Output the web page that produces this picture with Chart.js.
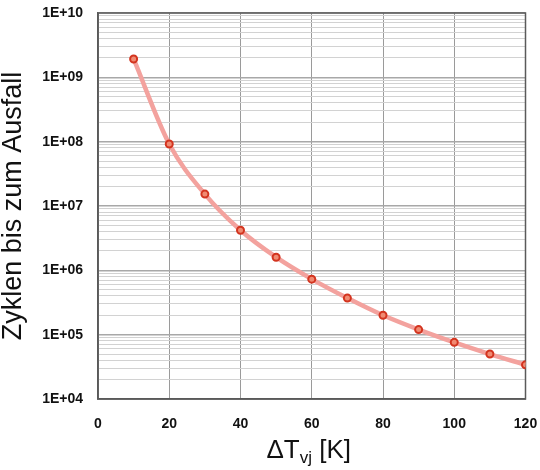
<!DOCTYPE html>
<html>
<head>
<meta charset="utf-8">
<script src="https://cdn.jsdelivr.net/npm/chart.js@4"></script>
<style>
  body { margin: 0; background: #fff; }
  canvas { display: block; }
</style>
</head>
<body>
<canvas id="chart" width="540" height="470"></canvas>
<script>
const deltaT = [10, 20, 30, 40, 50, 60, 70, 80, 90, 100, 110, 120];
const cycles = [1.93e9, 9.2e7, 1.53e7, 4.2e6, 1.6e6, 7.3e5, 3.7e5, 2.0e5, 1.2e5, 7.6e4, 5.0e4, 3.4e4];
const yDecades = [1e4, 1e5, 1e6, 1e7, 1e8, 1e9, 1e10];
const yLabels = ['1E+04', '1E+05', '1E+06', '1E+07', '1E+08', '1E+09', '1E+10'];
const xTitle = ['ΔT', 'vj', ' [K]'];
const yTitle = 'Zyklen bis zum Ausfall';

const fontFamily = "'Liberation Sans', Arial, sans-serif";

// log grid: decades plus 2..9 between them
function buildLogTicks() {
	const ticks = [];
	yDecades.forEach((d, i) => {
		ticks.push({ value: d, major: true });
		if (i < yDecades.length - 1) {
			for (let m = 2; m <= 9; m++) ticks.push({ value: d * m, major: false });
		}
	});
	return ticks;
}

// no extra label padding, the layout padding places the plot
function noPadding(scale) {
	scale.paddingTop = 0;
	scale.paddingBottom = 0;
	scale.paddingLeft = 0;
	scale.paddingRight = 0;
}

const frame = {
	id: 'frame',
	beforeDatasetsDraw(chart) {
		const { ctx, chartArea: a } = chart;
		ctx.save();
		ctx.strokeStyle = '#5a5a5a';
		ctx.lineWidth = 1.5;
		ctx.strokeRect(a.left, a.top, a.right - a.left, a.bottom - a.top);
		ctx.restore();
	},
};

const subTitle = {
	id: 'subTitle',
	afterDraw(chart) {
		const { ctx, chartArea: a } = chart;
		const big = `26px ${fontFamily}`;
		const small = `17px ${fontFamily}`;
		ctx.save();
		ctx.fillStyle = '#111';
		ctx.textBaseline = 'alphabetic';
		ctx.textAlign = 'left';
		ctx.font = big;
		const w1 = ctx.measureText(xTitle[0]).width;
		const w3 = ctx.measureText(xTitle[2]).width;
		ctx.font = small;
		const w2 = ctx.measureText(xTitle[1]).width;
		let x = (a.left + a.right) / 2 - (w1 + w2 + w3) / 2 - 3;
		const y = 458;
		ctx.font = big;
		ctx.fillText(xTitle[0], x, y);
		x += w1;
		ctx.font = small;
		ctx.fillText(xTitle[1], x, y + 5);
		x += w2;
		ctx.font = big;
		ctx.fillText(xTitle[2], x, y);
		ctx.restore();
	},
};

const ctx = document.getElementById('chart').getContext('2d');
const chart = new Chart(ctx, {
	type: 'line',
	data: {
		datasets: [
			{
				data: deltaT.map((x, i) => ({ x, y: cycles[i] })),
				borderColor: '#f3a29e',
				borderWidth: 4.5,
				cubicInterpolationMode: 'monotone',
				pointRadius: 3.5,
				pointBorderWidth: 2,
				pointBorderColor: '#d3341f',
				pointBackgroundColor: '#f08a72',
				fill: false,
			},
		],
	},
	options: {
		responsive: false,
		animation: false,
		devicePixelRatio: 1,
		layout: { padding: { left: 0, right: 14.5, top: 13, bottom: 0 } },
		plugins: { legend: { display: false }, tooltip: { enabled: false } },
		scales: {
			x: {
				type: 'linear',
				min: 0,
				max: 120,
				ticks: {
					stepSize: 20,
					padding: 17,
					color: '#111',
					font: { family: fontFamily, size: 14, weight: 'bold' },
				},
				grid: { color: '#9a9a9a', lineWidth: 1, drawTicks: false },
				border: { color: '#5a5a5a', width: 1.5 },
				afterFit(scale) { scale.height = 71; noPadding(scale); },
			},
			y: {
				type: 'logarithmic',
				min: 1e4,
				max: 1e10,
				afterBuildTicks(scale) { scale.ticks = buildLogTicks(); },
				ticks: {
					autoSkip: false,
					padding: 15,
					color: '#111',
					font: { family: fontFamily, size: 14, weight: 'bold' },
					callback(value) {
						const i = yDecades.indexOf(value);
						return i >= 0 ? yLabels[i] : '';
					},
				},
				grid: {
					drawTicks: false,
					color: (c) => (c.tick && c.tick.major ? '#a8a8a8' : '#d2d2d2'),
					lineWidth: (c) => (c.tick && c.tick.major ? 1.5 : 1),
				},
				border: { color: '#5a5a5a', width: 1.5 },
				title: {
					display: true,
					text: yTitle,
					color: '#111',
					padding: 0,
					font: { family: fontFamily, size: 27, lineHeight: 1 },
				},
				afterFit(scale) { scale.width = 98; noPadding(scale); },
			},
		},
	},
	plugins: [frame, subTitle],
});
</script>
</body>
</html>
